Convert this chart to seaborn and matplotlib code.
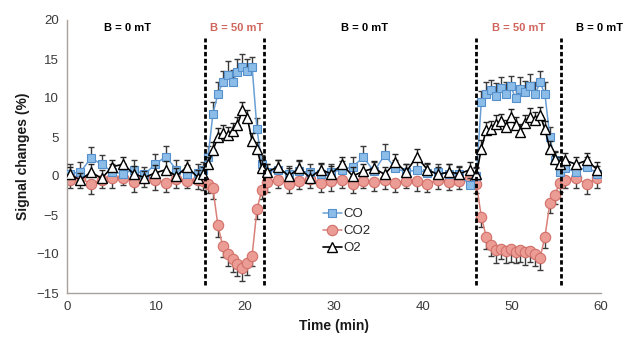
import numpy as np
import pandas as pd
import matplotlib
matplotlib.use("Agg")
import matplotlib.pyplot as plt
import seaborn as sns

# ---------------- data ----------------
time_min = [0.3, 1.5, 2.7, 3.9, 5.1, 6.3, 7.5, 8.7, 9.9, 11.1, 12.3, 13.5, 14.7,
            15.3, 15.85, 16.4, 16.95, 17.5, 18.05, 18.6, 19.15, 19.7, 20.25, 20.8, 21.35, 21.9,
            22.5, 23.7, 24.9, 26.1, 27.3, 28.5, 29.7, 30.9, 32.1, 33.3, 34.5, 35.7, 36.9, 38.1,
            39.3, 40.5, 41.7, 42.9, 44.1, 45.3,
            46.0, 46.55, 47.1, 47.65, 48.2, 48.75, 49.3, 49.85, 50.4, 50.95, 51.5, 52.05, 52.6,
            53.15, 53.7, 54.25, 54.8, 55.35,
            56.0, 57.2, 58.4, 59.6]

co = [0.3, 0.5, 2.3, 1.5, 0.5, 0.3, 0.8, 0.2, 1.5, 2.5, 0.8, 0.3, 0.4,
      0.8, 2.5, 8.0, 10.5, 12.0, 13.0, 12.0, 13.3, 14.0, 13.5, 14.0, 6.0, 1.5,
      0.5, 0.8, 0.3, 0.6, 0.5, 0.3, 0.5, 0.8, 1.2, 2.4, 0.6, 2.7, 1.0, 0.5, 0.8, 0.4, 0.5, 0.3, 0.2, -1.2,
      0.0, 9.5, 10.5, 11.0, 10.3, 11.3, 10.5, 11.5, 10.0, 11.2, 10.8, 11.5, 10.5, 12.0, 10.5, 5.0, 2.0, 0.5,
      1.0, 0.5, 1.2, 0.3]

co2 = [-0.5, -0.3, -1.0, -0.5, -0.3, -0.2, -0.8, -0.3, -0.5, -0.9, -0.4, -0.6, -0.5,
       -0.7, -1.0, -1.6, -6.3, -9.0, -10.0, -10.7, -11.3, -11.8, -11.2, -10.2, -4.2, -1.8,
       -0.8, -0.5, -1.0, -0.7, -0.4, -0.9, -0.6, -0.5, -1.0, -0.6, -0.8, -0.5, -0.9, -0.6, -0.7, -1.0, -0.5, -0.8, -0.6, -0.3,
       -1.0, -5.2, -7.8, -8.8, -9.5, -9.3, -9.6, -9.4, -9.7, -9.5, -9.8, -9.6, -10.0, -10.5, -7.8, -3.5, -2.4, -0.9,
       -0.5, -0.3, -1.0, -0.3]

o2 = [0.2, -0.5, 0.5, -0.3, 1.2, 1.5, 0.3, -0.2, 0.4, 0.8, 0.0, 1.2, -0.2,
      0.3, 1.5, 3.3, 5.0, 5.5, 5.2, 5.8, 6.5, 8.5, 7.5, 4.5, 3.5, 1.0,
      0.5, 1.2, 0.0, 1.0, -0.2, 0.8, 0.3, 1.5, 0.0, 0.6, 1.0, 0.2, 1.8, 0.5, 2.5, 0.8, 0.2, 0.5, 0.3, 0.8,
      0.2, 3.5, 5.9, 6.0, 6.7, 7.0, 6.3, 7.6, 6.5, 5.7, 6.8, 7.6, 7.2, 7.8, 6.0, 3.5, 2.2, 1.5,
      2.0, 1.5, 2.0, 0.8]

co_err = [1.2, 1.3, 1.4, 1.2, 1.1, 1.3, 1.2, 1.0, 1.3, 1.4, 1.2, 1.1, 1.2,
          1.0, 1.3, 1.5, 1.6, 1.5, 1.8, 1.6, 1.7, 1.6, 1.5, 1.2, 1.4, 1.2,
          1.1, 1.2, 1.0, 1.3, 1.1, 1.2, 1.0, 1.1, 1.3, 1.4, 1.2, 1.4, 1.1, 1.0, 1.2, 1.1, 1.0, 1.2, 1.1, 1.0,
          1.0, 1.4, 1.5, 1.3, 1.6, 1.4, 1.5, 1.3, 1.6, 1.5, 1.4, 1.6, 1.5, 1.4, 1.5, 1.3, 1.2, 1.1,
          1.1, 1.0, 1.2, 1.0]

co2_err = [1.1, 1.2, 1.3, 1.1, 1.2, 1.0, 1.2, 1.1, 1.3, 1.1, 1.2, 1.0, 1.2,
           1.1, 1.2, 1.3, 1.5, 1.4, 1.5, 1.6, 1.5, 1.6, 1.5, 1.4, 1.3, 1.2,
           1.2, 1.1, 1.2, 1.0, 1.2, 1.1, 1.3, 1.1, 1.2, 1.0, 1.1, 1.2, 1.1, 1.0, 1.2, 1.1, 1.2, 1.0, 1.1, 1.2,
           1.2, 1.4, 1.5, 1.4, 1.6, 1.4, 1.5, 1.6, 1.4, 1.5, 1.6, 1.4, 1.5, 1.5, 1.4, 1.3, 1.2, 1.1,
           1.1, 1.2, 1.3, 1.2]

o2_err = [1.0, 0.9, 1.0, 1.1, 0.9, 1.0, 1.0, 0.9, 1.0, 1.1, 1.0, 0.9, 1.0,
          0.9, 1.0, 1.0, 1.1, 1.0, 1.1, 1.0, 1.1, 1.0, 1.0, 1.0, 0.9, 1.0,
          1.0, 0.9, 1.0, 1.1, 1.0, 0.9, 1.0, 1.0, 1.1, 1.0, 0.9, 1.0, 1.0, 1.1, 1.0, 0.9, 1.0, 1.0, 0.9, 1.0,
          1.0, 1.1, 1.0, 1.0, 1.1, 1.0, 0.9, 1.0, 1.1, 1.0, 1.0, 1.1, 1.0, 1.0, 1.1, 1.0, 0.9, 1.0,
          1.0, 0.9, 1.0, 1.0]

switch_times = [15.5, 22.1, 46.0, 55.5]
field_labels = ["B = 0 mT", "B = 50 mT", "B = 0 mT", "B = 50 mT", "B = 0 mT"]
field_label_x = [6.8, 19.1, 33.4, 50.7, 59.8]
field_label_y = 19.0

# ---------------- style ----------------
sns.set_theme(style="white")
plt.rcParams["font.family"] = ["Liberation Sans", "DejaVu Sans"]

spine_col = "#a9a19b"
co_line, co_face, co_edge = "#6a9fd4", "#8cbde8", "#5590cc"
co2_line, co2_face, co2_edge = "#d98078", "#eb9c94", "#d27069"
red_text = "#d0645c"

fig = plt.figure(figsize=(6.3, 3.42), dpi=100)
ax = fig.add_axes([67 / 630, 1 - 293 / 342, (601 - 67) / 630, (293 - 20) / 342])

df = pd.DataFrame({"t": time_min, "CO": co, "CO2": co2, "O2": o2})

# CO2 (bottom layer)
ax.errorbar(time_min, co2, yerr=[co2_err, np.zeros(len(co2_err))], fmt="none",
            ecolor="#3a3a3a", elinewidth=1.0, capsize=2.2, capthick=1.0, zorder=1)
sns.lineplot(data=df, x="t", y="CO2", ax=ax, color=co2_line, lw=1.1,
             marker="o", markersize=7.5, markerfacecolor=co2_face, markeredgecolor=co2_edge,
             markeredgewidth=0.8, label="CO2", zorder=2)
# CO
ax.errorbar(time_min, co, yerr=[np.zeros(len(co_err)), co_err], fmt="none",
            ecolor="#3a3a3a", elinewidth=1.0, capsize=2.2, capthick=1.0, zorder=3)
sns.lineplot(data=df, x="t", y="CO", ax=ax, color=co_line, lw=1.1,
             marker="s", markersize=6, markerfacecolor=co_face, markeredgecolor=co_edge,
             markeredgewidth=0.8, label="CO", zorder=4)
# O2 (top)
ax.errorbar(time_min, o2, yerr=[np.zeros(len(o2_err)), o2_err], fmt="none",
            ecolor="#222222", elinewidth=1.0, capsize=2.2, capthick=1.0, zorder=5)
sns.lineplot(data=df, x="t", y="O2", ax=ax, color="black", lw=1.2,
             marker="^", markersize=6.5, markerfacecolor="white", markeredgecolor="black",
             markeredgewidth=1.0, label="O2", zorder=6)

# switch lines
ax.vlines(switch_times, -14.0, 17.7, colors="black", linestyles=(0, (1.6, 0.9)),
          lw=2.0, zorder=7)

# field labels
for x, lab in zip(field_label_x, field_labels):
    ax.text(x, field_label_y, lab, ha="center", va="center", fontsize=8,
            fontweight="bold", color=red_text if "50" in lab else "black")

ax.set_xlim(0, 60)
ax.set_ylim(-15, 20)
ax.set_xticks([0, 10, 20, 30, 40, 50, 60])
ax.set_yticks([-15, -10, -5, 0, 5, 10, 15, 20])
ax.tick_params(axis="both", labelsize=9.5, labelcolor="#3a3a3a", length=3,
               color=spine_col, width=0.8, direction="out", pad=3)
for s in ["top", "right"]:
    ax.spines[s].set_visible(False)
for s in ["left", "bottom"]:
    ax.spines[s].set_color(spine_col)
    ax.spines[s].set_linewidth(1.0)

ax.set_xlabel("Time (min)", fontsize=10, fontweight="bold", color="#1a1a1a", labelpad=4)
ax.set_ylabel("Signal changes (%)", fontsize=10, fontweight="bold", color="#1a1a1a", labelpad=4)

handles, labels = ax.get_legend_handles_labels()
order = [labels.index(n) for n in ["CO", "CO2", "O2"]]
leg = ax.legend([handles[i] for i in order], [labels[i] for i in order],
                loc="upper left", bbox_to_anchor=(0.47, 0.33), frameon=False,
                fontsize=9.5, handlelength=1.4, handletextpad=0.1, labelspacing=0.35,
                borderaxespad=0)
for t in leg.get_texts():
    t.set_color("#262626")

fig.savefig("out.png", dpi=100)
